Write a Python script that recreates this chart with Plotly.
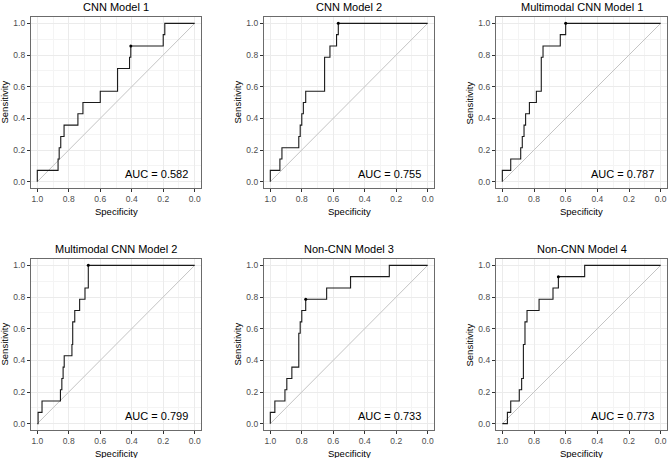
import plotly.graph_objects as go

# ROC step points: specificity and sensitivity (in 14ths)
titles = ["CNN Model 1", "CNN Model 2", "Multimodal CNN Model 1",
          "Multimodal CNN Model 2", "Non-CNN Model 3", "Non-CNN Model 4"]
auc = [0.582, 0.755, 0.787, 0.799, 0.733, 0.773]

spec1 = [1.0, 1.0, 0.868, 0.861, 0.851, 0.83, 0.742, 0.71, 0.60, 0.49, 0.414, 0.406, 0.2, 0.19, 0.0]
sens1 = [0, 1, 2, 3, 4, 5, 6, 7, 8, 10, 11, 12, 13, 14, 14]

spec2 = [1.0, 1.0, 0.939, 0.926, 0.819, 0.81, 0.80, 0.79, 0.775, 0.655, 0.621, 0.579, 0.568, 0.0]
sens2 = [0, 1, 2, 3, 4, 5, 6, 7, 8, 11, 12, 13, 14, 14]

spec3 = [1.0, 1.0, 0.947, 0.884, 0.874, 0.863, 0.853, 0.829, 0.785, 0.754, 0.743, 0.634, 0.6, 0.0]
sens3 = [0, 1, 2, 3, 4, 5, 6, 7, 8, 11, 12, 13, 14, 14]

spec4 = [1.0, 0.995, 0.97, 0.853, 0.844, 0.836, 0.829, 0.78, 0.775, 0.762, 0.731, 0.697, 0.676, 0.0]
sens4 = [0, 1, 2, 3, 4, 5, 6, 7, 9, 10, 11, 12, 14, 14]

spec5 = [1.0, 1.0, 0.971, 0.907, 0.895, 0.863, 0.819, 0.81, 0.80, 0.775, 0.642, 0.49, 0.244, 0.0]
sens5 = [0, 1, 2, 3, 4, 5, 8, 9, 10, 11, 12, 13, 14, 14]

spec6 = [1.0, 0.968, 0.947, 0.893, 0.878, 0.867, 0.857, 0.844, 0.768, 0.68, 0.646, 0.48, 0.0]
sens6 = [0, 1, 2, 3, 4, 7, 9, 10, 11, 12, 13, 14, 14]

# best threshold point (spec, sens) shown as a dot
best = [(0.406, 12), (0.568, 14), (0.6, 14), (0.676, 14), (0.775, 11), (0.646, 13)]

specs = [spec1, spec2, spec3, spec4, spec5, spec6]
senss = [sens1, sens2, sens3, sens4, sens5, sens6]
n_pos = 14

W, H = 668, 458
cols = [(31, 201), (264, 434), (496, 667)]
rows = [(17, 188), (259, 430)]

fig = go.Figure()
font = "Liberation Sans, Arial, sans-serif"
annotations = []

for i in range(6):
    r, c = divmod(i, 3)
    x0, x1 = cols[c]
    y0, y1 = rows[r]
    xa = "x" if i == 0 else f"x{i+1}"
    ya = "y" if i == 0 else f"y{i+1}"
    sfx = "" if i == 0 else str(i + 1)

    # chance diagonal
    fig.add_trace(go.Scatter(x=[1, 0], y=[0, 1], mode="lines",
                             line=dict(color="#c4c4c4", width=1),
                             xaxis=xa, yaxis=ya, showlegend=False, hoverinfo="skip"))
    # ROC curve
    fig.add_trace(go.Scatter(x=specs[i], y=[s / n_pos for s in senss[i]], mode="lines",
                             line=dict(color="#1a1a1a", width=1.1, shape="hv"),
                             xaxis=xa, yaxis=ya, showlegend=False))
    bx, by = best[i]
    fig.add_trace(go.Scatter(x=[bx], y=[by / n_pos], mode="markers",
                             marker=dict(color="black", size=3),
                             xaxis=xa, yaxis=ya, showlegend=False))

    common = dict(
        tickformat=".1f", dtick=0.2, ticks="outside", ticklen=3, tickcolor="#333333",
        tickfont=dict(family=font, size=8.5, color="#4d4d4d"),
        showgrid=True, gridcolor="#ebebeb", gridwidth=1,
        minor=dict(dtick=0.1, showgrid=True, gridcolor="#f4f4f4", ticks=""),
        showline=True, mirror=True, linecolor="#6b6b6b", linewidth=1.2,
        zeroline=False, fixedrange=True,
    )
    fig.layout["xaxis" + sfx] = dict(common, domain=[x0 / W, x1 / W], range=[1.04, -0.04],
                                     anchor=ya)
    fig.layout["yaxis" + sfx] = dict(common, domain=[1 - y1 / H, 1 - y0 / H], range=[-0.04, 1.04],
                                     anchor=xa)

    cx = (x0 + x1) / 2 / W
    annotations.append(dict(text=titles[i], x=cx, y=1 - (y0 - 10) / H, xref="paper", yref="paper",
                            showarrow=False, font=dict(family=font, size=11, color="black"),
                            xanchor="center", yanchor="middle"))
    annotations.append(dict(text="Specificity", x=cx, y=1 - (y1 + 23) / H, xref="paper", yref="paper",
                            showarrow=False, font=dict(family=font, size=9.5, color="black"),
                            xanchor="center", yanchor="middle"))
    annotations.append(dict(text="Sensitivity", x=(x0 - 27) / W, y=1 - (y0 + y1) / 2 / H,
                            xref="paper", yref="paper", textangle=-90,
                            showarrow=False, font=dict(family=font, size=9.5, color="black"),
                            xanchor="center", yanchor="middle"))
    annotations.append(dict(text=f"AUC = {auc[i]:.3f}", x=0.03, y=0.05, xref=xa, yref=ya,
                            showarrow=False, font=dict(family=font, size=11, color="black"),
                            xanchor="right", yanchor="middle"))

fig.update_layout(width=W, height=H, margin=dict(l=0, r=0, t=0, b=0),
                  paper_bgcolor="white", plot_bgcolor="white",
                  annotations=annotations)

# drop the default 8px page margin so the figure sits at the window's corner
fig.write_html("out.html", config={"displayModeBar": False},
               post_script="document.body.style.margin='0px';")
